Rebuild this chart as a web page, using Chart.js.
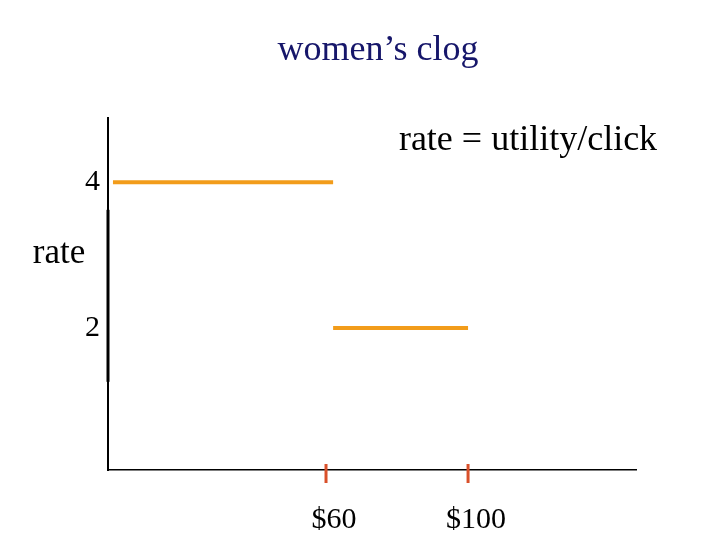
<!DOCTYPE html>
<html>
<head>
<meta charset="utf-8">
<script src="https://cdn.jsdelivr.net/npm/chart.js@4.4.0/dist/chart.umd.min.js"></script>
<style>
  html, body { margin: 0; padding: 0; background: #ffffff; }
  #wrap { width: 720px; height: 540px; }
</style>
</head>
<body>
<div id="wrap"><canvas id="chart" width="720" height="540"></canvas></div>
<script>
// chart values
const priceTicks = [60, 100];
const priceLabels = ["$60", "$100"];
const rateTicks = [2, 4];
const highSegment = [0, 62];    // price range at rate 4
const lowSegment = [62, 100];   // price range at rate 2
const highRate = 4;
const lowRate = 2;

const SERIF = "'Liberation Serif', 'Times New Roman', serif";

/* --------------------------
   EXTRA DRAWING (texts, red ticks, axis)
--------------------------- */
const decorations = {
    id: "decorations",
    afterDraw(chart){
        const ctx = chart.ctx;
        const x = chart.scales.x, y = chart.scales.y;
        ctx.save();

        // title
        ctx.fillStyle = "#16166a";
        ctx.font = "36px " + SERIF;
        ctx.textAlign = "center";
        ctx.textBaseline = "alphabetic";
        ctx.fillText("women\u2019s clog", 378, 60);

        // note
        ctx.fillStyle = "#000000";
        ctx.fillText("rate = utility/click", 528, 150);

        // axis name
        ctx.font = "35px " + SERIF;
        ctx.fillText("rate", 59, 263);

        // thicker piece of the y axis
        ctx.strokeStyle = "#000000";
        ctx.lineWidth = 3;
        ctx.beginPath();
        ctx.moveTo(x.left, y.getPixelForValue(3.62));
        ctx.lineTo(x.left, y.getPixelForValue(1.26));
        ctx.stroke();

        // red price ticks
        ctx.strokeStyle = "#d9502a";
        ctx.lineWidth = 3;
        priceTicks.forEach(function(v){
            const px = x.getPixelForValue(v);
            ctx.beginPath();
            ctx.moveTo(px, y.bottom - 6);
            ctx.lineTo(px, y.bottom + 13);
            ctx.stroke();
        });
        ctx.restore();
    }
};

new Chart(document.getElementById("chart"), {
    type: "line",
    data: {
        datasets: [
            {
                data: highSegment.map(function(p){ return {x: p, y: highRate}; }),
                borderColor: "#f29c1a",
                borderWidth: 4,
                pointRadius: 0
            },
            {
                data: lowSegment.map(function(p){ return {x: p, y: lowRate}; }),
                borderColor: "#f29c1a",
                borderWidth: 4,
                pointRadius: 0
            }
        ]
    },
    options: {
        responsive: false,
        animation: false,
        layout: { padding: { top: 118, right: 84, left: 0, bottom: 0 } },
        plugins: {
            legend: { display: false },
            tooltip: { enabled: false },
            title: { display: false }
        },
        scales: {
            x: {
                type: "linear",
                min: -1.4,
                max: 147.3,
                afterBuildTicks: function(s){ s.ticks = priceTicks.map(function(v){ return {value: v}; }); },
                afterFit: function(s){ s.height = 70; },
                border: { display: true, color: "#000000", width: 1.5 },
                grid: { display: false, drawTicks: false },
                ticks: {
                    autoSkip: false,
                    maxRotation: 0,
                    padding: 32,
                    labelOffset: 8,
                    color: "#000000",
                    font: { family: SERIF, size: 30 },
                    callback: function(v){ return priceLabels[priceTicks.indexOf(v)]; }
                }
            },
            y: {
                type: "linear",
                min: 0.05,
                max: 4.88,
                afterBuildTicks: function(s){ s.ticks = rateTicks.map(function(v){ return {value: v}; }); },
                afterFit: function(s){ s.width = 108; },
                border: { display: true, color: "#000000", width: 2 },
                grid: { display: false, drawTicks: false },
                ticks: {
                    padding: 8,
                    color: "#000000",
                    font: { family: SERIF, size: 30 },
                    callback: function(v){ return String(v); }
                }
            }
        }
    },
    plugins: [decorations]
});
</script>
</body>
</html>
